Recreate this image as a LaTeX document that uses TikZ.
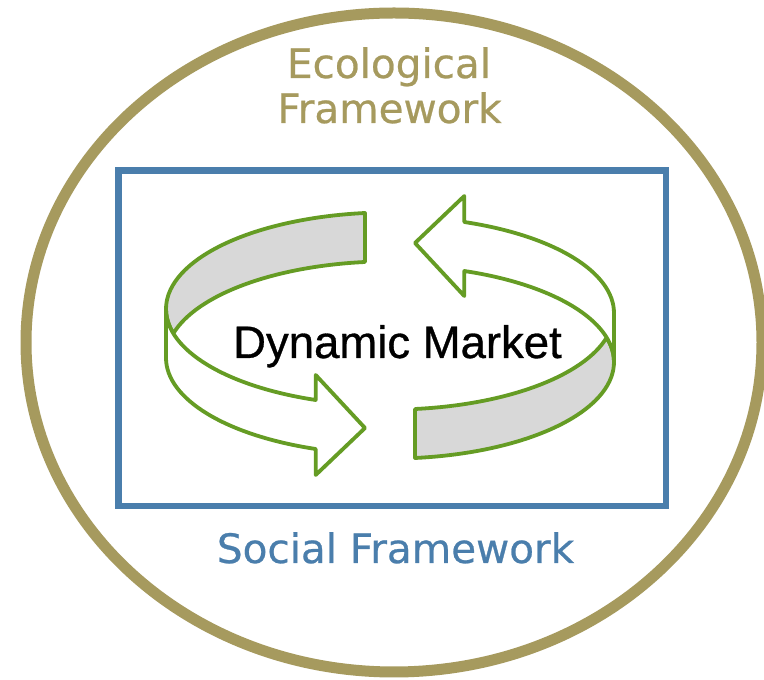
\documentclass[tikz,border=0pt]{standalone}
\usepackage{fontspec}
\setmainfont{DejaVu Sans}[FakeBold=0.6]
\newfontfamily\labelfont{DejaVu Sans}[FakeBold=0.6]
\newfontfamily\arialfont{Liberation Sans}[FakeBold=0.7]
\usetikzlibrary{calc}
\definecolor{khaki}{RGB}{166,154,94}
\definecolor{frameblue}{RGB}{74,126,172}
\definecolor{ringgreen}{RGB}{101,156,36}
\definecolor{bandgray}{RGB}{216,216,216}
\newcommand\ribbonpiece{%
  \path[band, fill=bandgray]
    ($(390,371.07)+(96.41:224 and 96.53)$)
    arc[start angle=96.41, end angle=194.70, x radius=224, y radius=96.53]
    arc[start angle=165.30, end angle=96.41, x radius=224, y radius=96.53]
    -- cycle;
  \path[band, fill=white]
    (166,371.07)
    arc[start angle=180, end angle=250.63, x radius=224, y radius=96.53]
    -- (315.7,305) -- (365,252) -- (315.7,205)
    -- ($(390,322.07)+(250.63:224 and 96.53)$)
    arc[start angle=250.63, end angle=180, x radius=224, y radius=96.53]
    -- cycle;
}
\begin{document}
\begin{tikzpicture}[x=1pt, y=1pt,
  band/.style={draw=ringgreen, line width=3.8pt, line join=round},
  bigtext/.style={font=\labelfont\fontsize{40.5}{48}\selectfont, anchor=base, inner sep=0pt}]
\useasboundingbox (0,0) rectangle (764,680);
\fill[white] (0,0) rectangle (764,680);
\draw[khaki, line width=11pt] (394,337.5) ellipse [x radius=368, y radius=329.5];
\draw[frameblue, line width=6.5pt] (118.5,509.5) rectangle (666,174);
\ribbonpiece
\begin{scope}[rotate around={180:(390,344.5)}]
  \ribbonpiece
\end{scope}
\node[bigtext, text=khaki] (eco) at (389,602) {Ecological};
\node[bigtext, text=khaki] (ecofw) at (389.5,557) {Framework};
\node[bigtext, text=frameblue] (social) at (395.5,117) {Social Framework};
\node[font=\arialfont\fontsize{45.5}{54}\selectfont, anchor=base, inner sep=0pt] (market) at (397.5,322) {Dynamic Market};
\end{tikzpicture}
\end{document}
